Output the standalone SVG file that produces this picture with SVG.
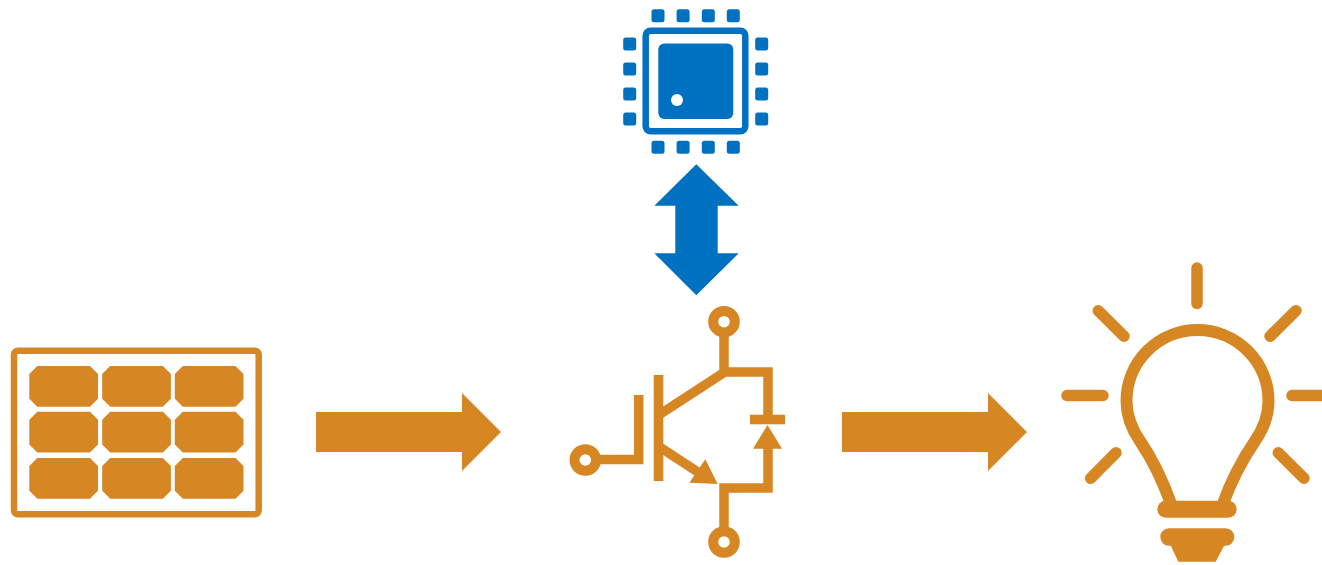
<svg xmlns="http://www.w3.org/2000/svg" width="1322" height="565" viewBox="0 0 1322 565">
  <style>
    .or { fill: #D68724; }
    .bl { fill: #0070C0; }
    .ol { fill: none; stroke: #D68724; }
    .ray { fill: none; stroke: #D68724; stroke-width: 11.5; stroke-linecap: round; }
    .ring { fill: #fff; stroke: #D68724; stroke-width: 10; }
    .w8 { fill: none; stroke: #D68724; stroke-width: 9.5; }
  </style>
  <defs>
    <polygon id="cell" class="or" points="8,0 60.7,0 68.7,8 68.7,32.7 60.7,40.7 8,40.7 0,32.7 0,8"/>
    <rect id="pad" class="bl" width="13" height="13" rx="2.5"/>
  </defs>
  <rect width="1322" height="565" fill="#fff"/>
  <g id="connectors">
    <polygon class="or" points="316,412 462,412 462,393 501,432 462,471 462,452 316,452"/>
    <polygon class="or" points="842,412 988,412 988,393 1027,432 988,471 988,452 842,452"/>
    <polygon class="bl" points="696.3,164.3 738.7,205.7 717.7,205.7 717.7,253.3 738.7,253.3 696.3,295.3 654.3,253.3 675.3,253.3 675.3,205.7 654.3,205.7"/>
  </g>
  <g id="solar-panel">
    <rect class="ol" x="14" y="350.7" width="244.7" height="163.6" rx="4" stroke-width="6.5"/>
    <use href="#cell" x="29.3" y="366"/><use href="#cell" x="102.2" y="366"/><use href="#cell" x="174.8" y="366"/>
    <use href="#cell" x="29.3" y="411.7"/><use href="#cell" x="102.2" y="411.7"/><use href="#cell" x="174.8" y="411.7"/>
    <use href="#cell" x="29.3" y="458"/><use href="#cell" x="102.2" y="458"/><use href="#cell" x="174.8" y="458"/>
  </g>
  <g id="microcontroller">
    <rect x="645.7" y="30.7" width="99.6" height="100.6" rx="5" fill="none" stroke="#0070C0" stroke-width="6.5"/>
    <rect class="bl" x="658.3" y="43.5" width="75" height="75.5" rx="6"/>
    <circle cx="677" cy="100" r="6" fill="#fff"/>
    <use href="#pad" x="651.5" y="9.2"/><use href="#pad" x="676.6" y="9.2"/><use href="#pad" x="701.8" y="9.2"/><use href="#pad" x="726.8" y="9.2"/>
    <use href="#pad" x="651.5" y="140.8"/><use href="#pad" x="676.6" y="140.8"/><use href="#pad" x="701.8" y="140.8"/><use href="#pad" x="726.8" y="140.8"/>
    <use href="#pad" x="623.2" y="37.5"/><use href="#pad" x="623.2" y="62.5"/><use href="#pad" x="623.2" y="87.5"/><use href="#pad" x="623.2" y="112.5"/>
    <use href="#pad" x="755.2" y="37.5"/><use href="#pad" x="755.2" y="62.5"/><use href="#pad" x="755.2" y="87.5"/><use href="#pad" x="755.2" y="112.5"/>
  </g>
  <g id="igbt">
    <path class="w8" d="M724,332 V372 H768 V415"/>
    <path class="w8" d="M724,552 V488 H768 V440"/>
    <rect class="or" x="750" y="414.7" width="35" height="9.6"/>
    <polygon class="or" points="767.5,425 782,448.7 753,448.7"/>
    <path class="w8" d="M596,459.5 H638.7 V395"/>
    <rect class="or" x="653.7" y="375" width="9.6" height="106"/>
    <path class="w8" d="M658,415.5 L724,372.5"/>
    <path class="w8" d="M658,446 L704,476"/>
    <polygon class="or" points="717.7,484 705.3,459.3 689.3,482.7"/>
    <circle class="ring" cx="724" cy="321.7" r="10.8"/>
    <circle class="ring" cx="724" cy="542" r="10.8"/>
    <circle class="ring" cx="585.3" cy="460" r="10.8"/>
  </g>
  <g id="light-bulb">
    <path class="ray" d="M1197,268 V303.5"/>
    <path class="ray" d="M1067,395.5 H1103"/>
    <path class="ray" d="M1292,395.5 H1330"/>
    <path class="ray" d="M1098.3,310.7 L1124,336.3"/>
    <path class="ray" d="M1296,310.7 L1270,336.3"/>
    <path class="ray" d="M1116,452.7 L1090.7,478.3"/>
    <path class="ray" d="M1278.3,452.7 L1304,478.3"/>
    <path class="ol" stroke-width="12" d="M1171.5,505 C1164,484 1155,463 1140,441 C1131,428 1126.5,415 1126.5,401 A71,71 0 0 1 1268.5,401 C1268.5,415 1264,428 1255,441 C1240,463 1230,484 1222.5,505"/>
    <rect class="or" x="1157.3" y="500.7" width="79.4" height="17" rx="8.5"/>
    <rect class="or" x="1160.3" y="528.3" width="74" height="17.4" rx="8.7"/>
    <polygon class="or" points="1170,544 1225,544 1215.7,561.7 1178.3,561.7"/>
  </g>
</svg>
